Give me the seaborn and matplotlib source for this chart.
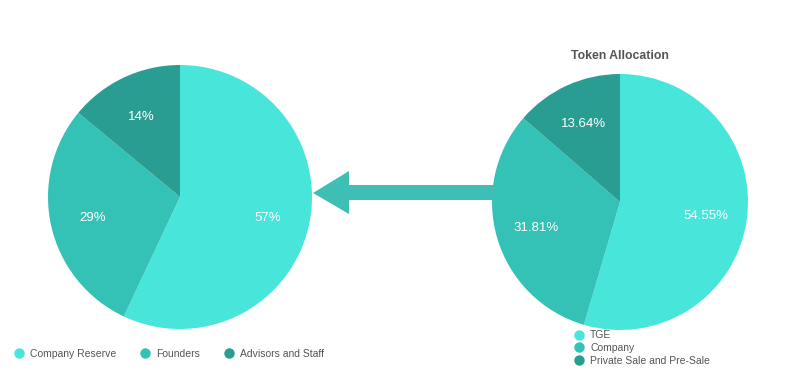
import matplotlib
matplotlib.use("Agg")
import matplotlib.pyplot as plt
import seaborn as sns
from matplotlib.lines import Line2D
from matplotlib.patches import Polygon

sns.set_theme(style="white")
plt.rcParams['font.family'] = ['Liberation Sans', 'DejaVu Sans']

left_labels = ["Company Reserve", "Founders", "Advisors and Staff"]
left_values = [57, 29, 14]
left_text = ["57%", "29%", "14%"]

right_labels = ["TGE", "Company", "Private Sale and Pre-Sale"]
right_values = [54.55, 31.81, 13.64]
right_text = ["54.55%", "31.81%", "13.64%"]

colors = ["#48E5DB", "#34C2B6", "#2A9D93"]
arrow_color = "#3DBFB5"
text_gray = "#555555"

W, H = 790, 378
fig = plt.figure(figsize=(W / 100, H / 100), dpi=100)


def px_axes(cx, cy, r):
    return fig.add_axes([(cx - r) / W, 1 - (cy + r) / H, 2 * r / W, 2 * r / H])


def draw_pie(ax, values, texts):
    wedges, labels = ax.pie(values, colors=colors, startangle=90, counterclock=False,
                            labels=texts, labeldistance=0.68,
                            wedgeprops=dict(linewidth=0),
                            textprops=dict(color="white", fontsize=9.5, ha="center",
                                           va="center_baseline"))
    ax.set_xlim(-1, 1)
    ax.set_ylim(-1, 1)
    ax.set_aspect("equal")
    ax.axis("off")
    return wedges


axl = px_axes(180, 197, 132)
draw_pie(axl, left_values, left_text)
axr = px_axes(620, 202, 128)
draw_pie(axr, right_values, right_text)

# arrow (decoration)
pts = [(313, 193), (349, 171), (349, 185), (495, 185), (495, 200), (349, 200), (349, 214)]
poly = Polygon([(x / W, 1 - y / H) for x, y in pts], closed=True, transform=fig.transFigure,
               facecolor=arrow_color, edgecolor="none", zorder=0)
fig.patches.append(poly)

fig.text(620 / W, 1 - 56 / H, "Token Allocation", ha="center", va="center",
         fontsize=8.8, fontweight="bold", color=text_gray)


def handles(labels):
    return [Line2D([0], [0], marker="o", linestyle="none", markersize=7.5,
                   markerfacecolor=c, markeredgecolor="none", label=l)
            for c, l in zip(colors, labels)]


leg1 = fig.legend(handles=handles(left_labels), loc="center left",
                  bbox_to_anchor=(5 / W, 1 - 354 / H), ncol=3, frameon=False,
                  fontsize=7.5, handletextpad=0.5, columnspacing=2.15, handlelength=1.2,
                  borderpad=0.2)
for t in leg1.get_texts():
    t.set_color(text_gray)

leg2 = fig.legend(handles=handles(right_labels), loc="upper left",
                  bbox_to_anchor=(565 / W, 1 - 323 / H), ncol=1, frameon=False,
                  fontsize=7.5, handletextpad=0.5, labelspacing=0.25, handlelength=1.2,
                  borderpad=0.2)
for t in leg2.get_texts():
    t.set_color(text_gray)

fig.savefig("out.png", dpi=100, facecolor="white")
